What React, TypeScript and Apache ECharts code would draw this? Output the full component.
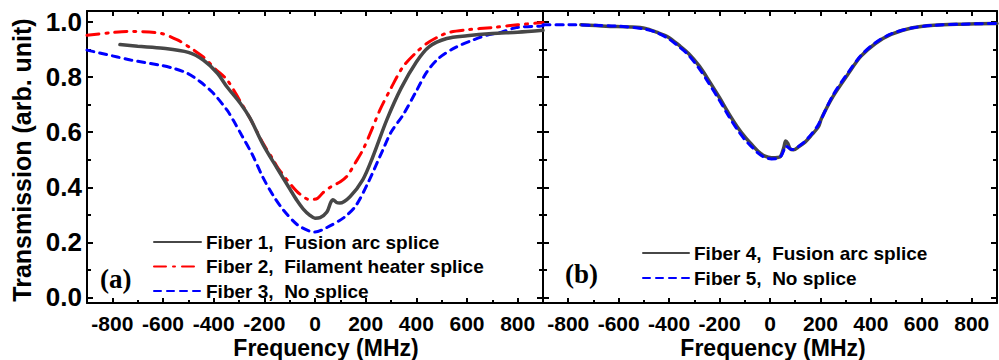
import React, { useEffect, useRef } from 'react';
import * as echarts from 'echarts';

// ---- tick values ----
const X_MAJOR = [-800, -600, -400, -200, 0, 200, 400, 600, 800];
const X_MINOR = [-700, -500, -300, -100, 100, 300, 500, 700];
const Y_MAJOR = [0, 0.2, 0.4, 0.6, 0.8, 1.0];
const Y_MINOR = [0.1, 0.3, 0.5, 0.7, 0.9];

// ---- panel (a) ----
const F1_NAME = 'Fiber 1,\u00a0 Fusion arc splice';
const F1_X = [-770, -700, -600, -500, -441, -386, -347, -295, -256, -205, -150, -98, -71, -47, -20, 0, 20, 47, 62, 71, 85, 98, 138, 189, 228, 283, 340, 400, 450, 520, 600, 700, 800, 900];
const F1_Y = [0.918, 0.912, 0.905, 0.89, 0.862, 0.815, 0.764, 0.705, 0.65, 0.555, 0.47, 0.392, 0.352, 0.322, 0.298, 0.288, 0.29, 0.31, 0.345, 0.355, 0.345, 0.343, 0.366, 0.428, 0.51, 0.644, 0.76, 0.855, 0.91, 0.94, 0.95, 0.958, 0.963, 0.97];

const F2_NAME = 'Fiber 2,\u00a0 Filament heater splice';
const F2_X = [-900, -800, -740, -610, -543, -490, -441, -394, -347, -300, -256, -205, -165, -146, -91, -59, -20, 10, 31, 60, 79, 100, 126, 160, 189, 220, 256, 300, 347, 400, 441, 490, 531, 600, 700, 800, 886, 900];
const F2_Y = [0.952, 0.962, 0.966, 0.959, 0.935, 0.905, 0.873, 0.83, 0.79, 0.72, 0.65, 0.56, 0.5, 0.47, 0.405, 0.375, 0.355, 0.36, 0.38, 0.4, 0.41, 0.42, 0.44, 0.49, 0.536, 0.6, 0.68, 0.76, 0.837, 0.89, 0.922, 0.948, 0.963, 0.972, 0.98, 0.99, 0.997, 0.998];

const F3_NAME = 'Fiber 3,\u00a0 No splice';
const F3_X = [-900, -780, -728, -610, -559, -504, -453, -402, -347, -323, -290, -248, -205, -165, -126, -71, -20, 0, 47, 114, 161, 209, 268, 300, 347, 398, 441, 488, 555, 622, 677, 736, 795, 886, 900];
const F3_Y = [0.898, 0.873, 0.862, 0.843, 0.832, 0.814, 0.783, 0.742, 0.68, 0.644, 0.59, 0.52, 0.435, 0.37, 0.319, 0.265, 0.24, 0.238, 0.254, 0.29, 0.333, 0.416, 0.536, 0.6, 0.662, 0.746, 0.818, 0.868, 0.908, 0.934, 0.952, 0.963, 0.98, 0.985, 0.986];

// ---- panel (b) ----
const F4_NAME = 'Fiber 4,\u00a0 Fusion arc splice';
const F4_X = [-750, -650, -550, -494, -450, -403, -360, -323, -280, -244, -200, -165, -130, -97, -70, -46, -20, 6, 30, 42, 55, 62, 70, 80, 93, 115, 140, 165, 192, 204, 250, 311, 360, 418, 480, 561, 650, 760, 900];
const F4_Y = [0.99, 0.985, 0.982, 0.977, 0.963, 0.945, 0.915, 0.886, 0.84, 0.79, 0.725, 0.67, 0.62, 0.58, 0.553, 0.53, 0.513, 0.507, 0.508, 0.512, 0.545, 0.568, 0.56, 0.54, 0.536, 0.548, 0.565, 0.59, 0.62, 0.65, 0.73, 0.813, 0.875, 0.922, 0.955, 0.978, 0.988, 0.992, 0.995];

const F5_NAME = 'Fiber 5,\u00a0 No splice';
const F5_X = [-900, -800, -700, -600, -500, -450, -403, -360, -323, -280, -244, -200, -165, -130, -97, -70, -46, -20, 6, 30, 45, 55, 62, 72, 85, 100, 120, 140, 165, 192, 250, 311, 360, 418, 480, 561, 650, 760, 900];
const F5_Y = [0.99, 0.99, 0.988, 0.985, 0.975, 0.962, 0.94, 0.91, 0.88, 0.83, 0.78, 0.715, 0.66, 0.61, 0.57, 0.545, 0.523, 0.508, 0.503, 0.505, 0.515, 0.535, 0.55, 0.545, 0.537, 0.54, 0.553, 0.568, 0.594, 0.628, 0.735, 0.818, 0.878, 0.925, 0.957, 0.978, 0.988, 0.992, 0.995];

const FONT = '"Liberation Sans", Arial, Helvetica, sans-serif';
const SERIF = '"Liberation Serif", "Times New Roman", serif';
const GRAY = '#474747';

function pairs(xs: number[], ys: number[]) {
  return xs.map((x, i) => [x, ys[i]]);
}

const axisLine = { show: true, onZero: false, lineStyle: { color: '#000', width: 2 } };
const noLine = { show: false, onZero: false };
const tickStyle = { color: '#000', width: 2 };

function xAxes(g: number, labels: boolean) {
  const base = { gridIndex: g, type: 'value', min: -900, max: 900, splitLine: { show: false } };
  return [
    {
      ...base, position: 'bottom', axisLine,
      axisTick: { show: true, inside: true, length: 5, customValues: X_MAJOR, lineStyle: tickStyle },
      axisLabel: {
        show: labels, customValues: X_MAJOR, fontSize: 21, fontWeight: 'bold', fontFamily: FONT,
        color: '#000', margin: 10, lineHeight: 21,
      },
    },
    {
      ...base, position: 'bottom', axisLine: noLine,
      axisTick: { show: true, inside: true, length: 3, customValues: X_MINOR, lineStyle: tickStyle },
      axisLabel: { show: false },
    },
    {
      ...base, position: 'top', axisLine,
      axisTick: { show: true, inside: true, length: 5, customValues: X_MAJOR, lineStyle: tickStyle },
      axisLabel: { show: false },
    },
    {
      ...base, position: 'top', axisLine: noLine,
      axisTick: { show: true, inside: true, length: 3, customValues: X_MINOR, lineStyle: tickStyle },
      axisLabel: { show: false },
    },
  ];
}

function yAxes(g: number, labels: boolean) {
  const base = { gridIndex: g, type: 'value', min: -0.02, max: 1.04, splitLine: { show: false } };
  return [
    {
      ...base, position: 'left', axisLine,
      axisTick: { show: true, inside: true, length: 6, customValues: Y_MAJOR, lineStyle: tickStyle },
      axisLabel: {
        show: labels, customValues: Y_MAJOR, fontSize: 26, fontWeight: 'bold', fontFamily: FONT,
        color: '#000', margin: 5, formatter: (v: number) => v.toFixed(1),
      },
    },
    {
      ...base, position: 'left', axisLine: noLine,
      axisTick: { show: true, inside: true, length: 4, customValues: Y_MINOR, lineStyle: tickStyle },
      axisLabel: { show: false },
    },
    {
      ...base, position: 'right', axisLine,
      axisTick: { show: true, inside: true, length: 6, customValues: Y_MAJOR, lineStyle: tickStyle },
      axisLabel: { show: false },
    },
    {
      ...base, position: 'right', axisLine: noLine,
      axisTick: { show: true, inside: true, length: 4, customValues: Y_MINOR, lineStyle: tickStyle },
      axisLabel: { show: false },
    },
  ];
}

function line(name: string, xs: number[], ys: number[], g: number, color: string, type: any, width: number) {
  return {
    name, type: 'line', xAxisIndex: g * 4, yAxisIndex: g * 4,
    data: pairs(xs, ys), symbol: 'none', smooth: 0.3,
    lineStyle: { color, width, type, cap: 'round' },
    itemStyle: { color },
  };
}

const legendText = { fontSize: 19, fontWeight: 'bold', fontFamily: FONT, color: '#000', lineHeight: 20 };

export default function App() {
  const ref = useRef<HTMLDivElement>(null);
  useEffect(() => {
    document.body.style.margin = '0';
    const chart = echarts.init(ref.current!, undefined, { renderer: 'svg' });
    chart.setOption({
      animation: false,
      backgroundColor: '#fff',
      grid: [
        { left: 87, right: 456, top: 11, bottom: 57 },
        { left: 543, right: 2, top: 11, bottom: 57 },
      ],
      xAxis: [...xAxes(0, true), ...xAxes(1, true)],
      yAxis: [...yAxes(0, true), ...yAxes(1, false)],
      legend: [
        {
          data: [F1_NAME, F2_NAME, F3_NAME], orient: 'vertical', left: 148, top: 227,
          itemWidth: 47, itemHeight: 14, itemGap: 4.5, textStyle: legendText, selectedMode: false,
          itemStyle: { opacity: 0 },
        },
        {
          data: [F4_NAME, F5_NAME], orient: 'vertical', left: 637, top: 238,
          itemWidth: 46, itemHeight: 14, itemGap: 5, textStyle: legendText, selectedMode: false,
          itemStyle: { opacity: 0 },
        },
      ],
      series: [
        line(F3_NAME, F3_X, F3_Y, 0, '#0000ff', [7, 6], 3),
        line(F2_NAME, F2_X, F2_Y, 0, '#ff0000', [12, 7, 2, 7], 3),
        line(F1_NAME, F1_X, F1_Y, 0, GRAY, 'solid', 3.5),
        line(F4_NAME, F4_X, F4_Y, 1, GRAY, 'solid', 3.5),
        line(F5_NAME, F5_X, F5_Y, 1, '#0000ff', [7, 6], 3),
      ],
      graphic: [
        {
          type: 'text', x: 22, y: 160, rotation: Math.PI / 2,
          style: {
            text: 'Transmission (arb. unit)', fontSize: 25, fontWeight: 'bold', fontFamily: FONT,
            fill: '#000', align: 'center', verticalAlign: 'middle',
          },
        },
        {
          type: 'text', x: 326, y: 348,
          style: {
            text: 'Frequency (MHz)', fontSize: 23, fontWeight: 'bold', fontFamily: FONT,
            fill: '#000', align: 'center', verticalAlign: 'middle',
          },
        },
        {
          type: 'text', x: 773, y: 348,
          style: {
            text: 'Frequency (MHz)', fontSize: 23, fontWeight: 'bold', fontFamily: FONT,
            fill: '#000', align: 'center', verticalAlign: 'middle',
          },
        },
        {
          type: 'text', x: 100, y: 279,
          style: {
            text: '(a)', fontSize: 27, fontWeight: 'bold', fontFamily: SERIF,
            fill: '#000', align: 'left', verticalAlign: 'middle',
          },
        },
        {
          type: 'text', x: 565, y: 274,
          style: {
            text: '(b)', fontSize: 27, fontWeight: 'bold', fontFamily: SERIF,
            fill: '#000', align: 'left', verticalAlign: 'middle',
          },
        },
      ],
    });
    return () => chart.dispose();
  }, []);
  return <div ref={ref} style={{ width: 999, height: 360 }} />;
}
